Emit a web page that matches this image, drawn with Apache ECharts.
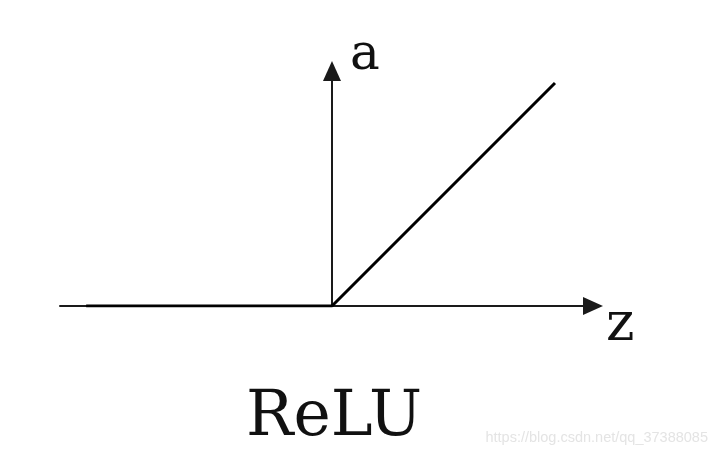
<!DOCTYPE html>
<html>
<head>
<meta charset="utf-8">
<script src="https://cdn.jsdelivr.net/npm/echarts@6/dist/echarts.min.js"></script>
<style>html,body{margin:0;padding:0;background:#fff;}#c{width:722px;height:456px;}</style>
</head>
<body>
<div id="c"></div>
<script>
// ReLU curve points (z, a)
var reluZ = [-4.41, 0, 4];
var reluA = [0, 0, 4];
var xName = 'z';
var yName = 'a';
var titleText = 'ReLU';
var watermark = 'https://blog.csdn.net/qq_37388085';

var chart = echarts.init(document.getElementById('c'));
var pts = reluZ.map(function (z, i) { return [z, reluA[i]]; });
var serif = '"DejaVu Serif", "Liberation Serif", serif';
chart.setOption({
  animation: false,
  backgroundColor: '#ffffff',
  title: [
    { text: titleText, left: 241, top: 382,
      textStyle: { fontFamily: serif, fontSize: 63, fontWeight: 'normal', color: '#111' } },
    { text: watermark, right: 9, bottom: 6,
      textStyle: { fontFamily: 'Liberation Sans, Arial, sans-serif', fontSize: 14.5, fontWeight: 'normal', color: '#e4e4e4' } }
  ],
  grid: { left: 60, right: 129, top: 71, bottom: 150 },
  xAxis: {
    type: 'value', min: -4.879, max: 4.682,
    axisLine: { show: true, onZero: true, symbol: ['none', 'triangle'], symbolSize: [18, 20],
      lineStyle: { color: '#1a1a1a', width: 2 } },
    axisTick: { show: false }, axisLabel: { show: false }, splitLine: { show: false },
    name: xName, nameLocation: 'end', nameGap: 13,
    nameTextStyle: { fontFamily: serif, fontSize: 54, color: '#111', verticalAlign: 'top', align: 'left', padding: [-7, 0, 0, 0] }
  },
  yAxis: {
    type: 'value', min: 0, max: 4.215,
    axisLine: { show: true, onZero: true, symbol: ['none', 'triangle'], symbolSize: [18, 20],
      lineStyle: { color: '#1a1a1a', width: 2 } },
    axisTick: { show: false }, axisLabel: { show: false }, splitLine: { show: false },
    name: yName, nameLocation: 'end', nameGap: 15,
    nameTextStyle: { fontFamily: serif, fontSize: 50, color: '#111', verticalAlign: 'middle', align: 'left', padding: [0, 0, 0, 18] }
  },
  series: [{
    type: 'line', data: pts, symbol: 'none', silent: true,
    lineStyle: { color: '#000', width: 3 }
  }]
});
</script>
</body>
</html>
